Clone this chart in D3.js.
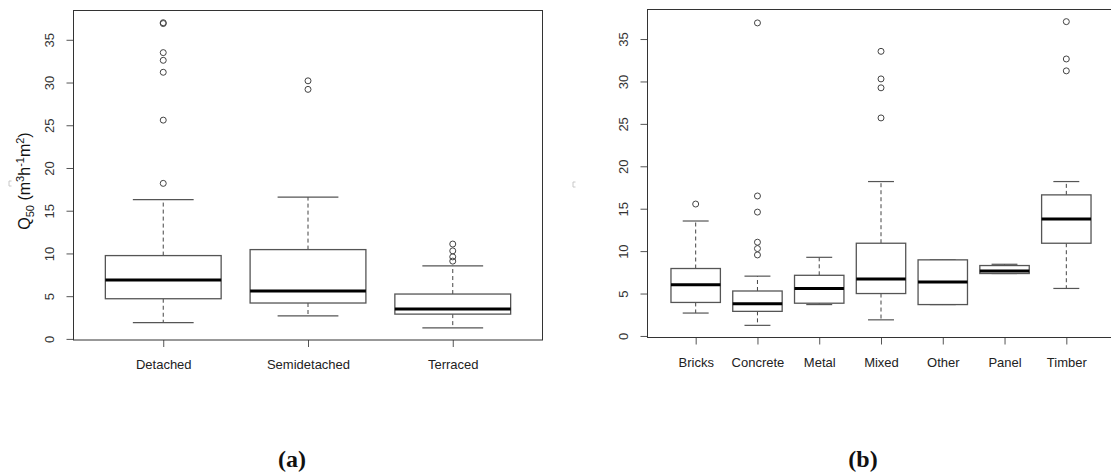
<!DOCTYPE html>
<html>
<head>
<meta charset="utf-8">
<script src="https://cdn.jsdelivr.net/npm/d3@7"></script>
<style>
  html, body { margin: 0; padding: 0; background: #fff; }
  svg { display: block; }
</style>
</head>
<body>
<svg id="chart" width="1111" height="472"></svg>
<script>
// Q50 air permeability by dwelling type (a) and by construction material (b)

// ---- panel (a): dwelling type ----
const housingTypes   = ["Detached", "Semidetached", "Terraced"];
const housingLow     = [1.9, 2.7, 1.3];
const housingQ1      = [4.7, 4.2, 2.9];
const housingMedian  = [6.9, 5.6, 3.5];
const housingQ3      = [9.75, 10.45, 5.25];
const housingHigh    = [16.3, 16.6, 8.55];
const housingOutliers = [
  [18.2, 25.6, 31.2, 32.6, 33.5, 36.9, 37.0],
  [29.2, 30.2],
  [9.1, 9.6, 10.3, 11.1]
];

// ---- panel (b): construction material ----
const materials       = ["Bricks", "Concrete", "Metal", "Mixed", "Other", "Panel", "Timber"];
const materialLow     = [2.7, 1.25, 3.7, 1.9, 3.7, 7.36, 5.6];
const materialQ1      = [3.95, 2.9, 3.86, 5.0, 3.7, 7.36, 10.93];
const materialMedian  = [6.05, 3.8, 5.6, 6.7, 6.35, 7.65, 13.8];
const materialQ3      = [7.95, 5.3, 7.15, 10.93, 8.97, 8.3, 16.63];
const materialHigh    = [13.55, 7.05, 9.27, 18.2, 8.97, 8.45, 18.2];
const materialOutliers = [
  [15.55],
  [9.55, 10.3, 11.05, 14.6, 16.5, 36.9],
  [],
  [25.7, 29.25, 30.3, 33.55],
  [],
  [],
  [31.25, 32.65, 37.05]
];

const yTickValues = [0, 5, 10, 15, 20, 25, 30, 35];
const panelTags = ["(a)", "(b)"];

const svg = d3.select("#chart");
const FONT = "'Liberation Sans', Arial, sans-serif";

function buildRows(cats, lo, q1, med, q3, hi, out) {
  return cats.map((c, i) => ({
    name: c, pos: i + 1, lo: lo[i], q1: q1[i], med: med[i], q3: q3[i], hi: hi[i], out: out[i]
  }));
}

function drawPanel(rows, box) {
  const n = rows.length;
  // x extent as in R boxplot: [0.5, n+0.5] widened by 4%
  const x = d3.scaleLinear()
    .domain([0.5 - 0.04 * n, n + 0.5 + 0.04 * n])
    .range([box.left, box.right]);

  const all = rows.flatMap(r => [r.lo, r.hi, ...r.out]);
  const mn = d3.min(all), mx = d3.max(all), ext = 0.04 * (mx - mn);
  const y = d3.scaleLinear().domain([mn - ext, mx + ext]).range([box.bottom, box.top]);

  const g = svg.append("g");
  const unit = x(2) - x(1);
  const bw = 0.8 * unit;       // box width
  const cw = 0.42 * unit;      // whisker cap width

  // y axis
  const yAxis = g.append("g")
    .attr("transform", `translate(${box.left},0)`)
    .call(d3.axisLeft(y).tickValues(yTickValues).tickSize(7).tickPadding(0).tickFormat(d3.format("d")));
  yAxis.select(".domain").remove();
  yAxis.selectAll(".tick line").attr("stroke", "#555").attr("stroke-width", 1);
  yAxis.selectAll(".tick text")
    .attr("x", null).attr("dy", null)
    .attr("text-anchor", "middle")
    .attr("dominant-baseline", "central")
    .attr("transform", "translate(-24,0) rotate(-90)")
    .attr("font-family", FONT).attr("font-size", 13).attr("fill", "#333");

  // x axis
  const xAxis = g.append("g")
    .attr("transform", `translate(0,${box.bottom})`)
    .call(d3.axisBottom(x).tickValues(rows.map(r => r.pos)).tickSize(7).tickPadding(13)
      .tickFormat((d) => rows[d - 1].name));
  xAxis.select(".domain").remove();
  xAxis.selectAll(".tick line").attr("stroke", "#555").attr("stroke-width", 1);
  xAxis.selectAll(".tick text")
    .attr("font-family", FONT).attr("font-size", 13).attr("fill", "#222");

  const b = g.selectAll("g.box").data(rows).join("g").attr("class", "box");

  // whiskers
  b.append("line")
    .attr("x1", d => x(d.pos)).attr("x2", d => x(d.pos))
    .attr("y1", d => y(d.q3)).attr("y2", d => y(d.hi))
    .attr("stroke", "#444").attr("stroke-dasharray", "4,3");
  b.append("line")
    .attr("x1", d => x(d.pos)).attr("x2", d => x(d.pos))
    .attr("y1", d => y(d.q1)).attr("y2", d => y(d.lo))
    .attr("stroke", "#444").attr("stroke-dasharray", "4,3");
  // caps
  ["hi", "lo"].forEach(k => {
    b.append("line")
      .attr("x1", d => x(d.pos) - cw / 2).attr("x2", d => x(d.pos) + cw / 2)
      .attr("y1", d => y(d[k])).attr("y2", d => y(d[k]))
      .attr("stroke", "#555").attr("stroke-width", 1.2);
  });
  // box
  b.append("rect")
    .attr("x", d => x(d.pos) - bw / 2)
    .attr("width", bw)
    .attr("y", d => y(d.q3))
    .attr("height", d => y(d.q1) - y(d.q3))
    .attr("fill", "#fff").attr("stroke", "#555").attr("stroke-width", 1.3);
  // median
  b.append("line")
    .attr("x1", d => x(d.pos) - bw / 2).attr("x2", d => x(d.pos) + bw / 2)
    .attr("y1", d => y(d.med)).attr("y2", d => y(d.med))
    .attr("stroke", "#000").attr("stroke-width", 3);
  // outliers
  b.selectAll("circle").data(d => d.out.map(v => ({ pos: d.pos, v })))
    .join("circle")
    .attr("cx", d => x(d.pos)).attr("cy", d => y(d.v)).attr("r", 3)
    .attr("fill", "none").attr("stroke", "#444").attr("stroke-width", 1);

  // frame
  g.append("rect")
    .attr("x", box.left).attr("y", box.top)
    .attr("width", box.right - box.left).attr("height", box.bottom - box.top)
    .attr("fill", "none").attr("stroke", "#333").attr("stroke-width", 1);

  return g;
}

const rowsA = buildRows(housingTypes, housingLow, housingQ1, housingMedian, housingQ3, housingHigh, housingOutliers);
const rowsB = buildRows(materials, materialLow, materialQ1, materialMedian, materialQ3, materialHigh, materialOutliers);

drawPanel(rowsA, { left: 73.5, right: 542.5, top: 10.5, bottom: 340 });
drawPanel(rowsB, { left: 647.5, right: 1114.5, top: 9.5, bottom: 337.5 });

// y-axis title of panel (a): Q50 (m3 h-1 m2)
const title = svg.append("text")
  .attr("transform", "translate(30,181) rotate(-90)")
  .attr("text-anchor", "middle")
  .attr("font-family", FONT).attr("font-size", 16).attr("fill", "#111");
title.append("tspan").text("Q");
title.append("tspan").attr("font-size", 11).attr("dy", 4).text("50");
title.append("tspan").attr("dy", -4).text(" (m");
title.append("tspan").attr("font-size", 11).attr("dy", -6).text("3");
title.append("tspan").attr("dy", 6).text("h");
title.append("tspan").attr("font-size", 11).attr("dy", -6).text("-1");
title.append("tspan").attr("dy", 6).text("m");
title.append("tspan").attr("font-size", 11).attr("dy", -6).text("2");
title.append("tspan").attr("dy", 6).text(")");

// faint marks beside each y axis
[[9, 181], [573, 182]].forEach(([mx, my]) => {
  svg.append("path")
    .attr("d", `M${mx + 2.5},${my} H${mx} V${my + 5} H${mx + 2.5}`)
    .attr("fill", "none").attr("stroke", "#c8c8c8").attr("stroke-width", 1);
});

// panel tags
svg.selectAll("text.tag").data(panelTags).join("text")
  .attr("class", "tag")
  .attr("x", (d, i) => [292, 863][i]).attr("y", 467)
  .attr("text-anchor", "middle")
  .attr("font-family", "'Liberation Serif', 'DejaVu Serif', serif")
  .attr("font-weight", "bold").attr("font-size", 24).attr("fill", "#111")
  .text(d => d);
</script>
</body>
</html>
